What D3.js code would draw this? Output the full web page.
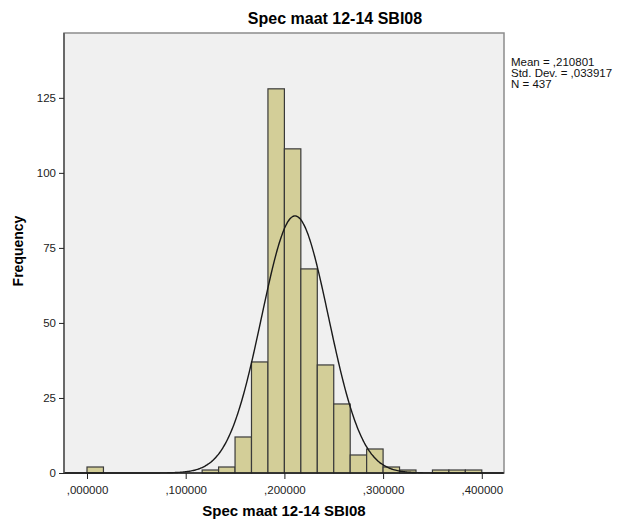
<!DOCTYPE html>
<html>
<head>
<meta charset="utf-8">
<script src="https://cdn.jsdelivr.net/npm/d3@7"></script>
<style>
  html, body { margin: 0; padding: 0; background: #fff; }
  svg { display: block; }
  text { font-family: "Liberation Sans", Arial, sans-serif; }
</style>
</head>
<body>
<script>
// Histogram bins: lower edges (bin width 1/60) and counts
const binWidth = 1 / 60;
const binStarts = [0, 7, 8, 9, 10, 11, 12, 13, 14, 15, 16, 17, 18, 19, 21, 22, 23].map(k => k * binWidth);
const binCounts = [2, 1, 2, 12, 37, 128, 108, 68, 36, 23, 6, 8, 2, 1, 1, 1, 1];

// Summary statistics of the variable
const mean = 0.210801;
const stdDev = 0.033917;
const n = 437;

const xTicks = [0, 0.1, 0.2, 0.3, 0.4];
const yTicks = [0, 25, 50, 75, 100, 125];
const statLines = ["Mean = ,210801", "Std. Dev. = ,033917", "N = 437"];

const W = 630, H = 524;
const plot = { left: 64, right: 504, top: 33, bottom: 473 };

const svg = d3.select("body").append("svg")
  .attr("width", W).attr("height", H);

svg.append("rect").attr("width", W).attr("height", H).attr("fill", "#fff");

const x = d3.scaleLinear()
  .domain([-0.0233, 0.4225])
  .range([plot.left, plot.right]);
const y = d3.scaleLinear()
  .domain([0, 146.6])
  .range([plot.bottom, plot.top]);

// Plot area background and frame
svg.append("rect")
  .attr("x", plot.left).attr("y", plot.top)
  .attr("width", plot.right - plot.left).attr("height", plot.bottom - plot.top)
  .attr("fill", "#f0f0f0")
  .attr("stroke", "#8c8c8c").attr("stroke-width", 1.5);

// Bars
svg.append("g").selectAll("rect")
  .data(binStarts.map((s, i) => ({ s, c: binCounts[i] })))
  .join("rect")
  .attr("x", d => x(d.s))
  .attr("width", d => x(d.s + binWidth) - x(d.s))
  .attr("y", d => y(d.c))
  .attr("height", d => y(0) - y(d.c))
  .attr("fill", "#d3ce98")
  .attr("stroke", "#3a3a3a")
  .attr("stroke-width", 1.2);

// Normal curve scaled to counts
const normal = v => n * binWidth / (stdDev * Math.sqrt(2 * Math.PI)) *
  Math.exp(-0.5 * Math.pow((v - mean) / stdDev, 2));
const curvePts = d3.range(x.domain()[0], x.domain()[1], 0.001).map(v => [v, normal(v)]);
svg.append("path")
  .datum(curvePts)
  .attr("fill", "none")
  .attr("stroke", "#1a1a1a")
  .attr("stroke-width", 1.4)
  .attr("d", d3.line().x(d => x(d[0])).y(d => y(d[1])).curve(d3.curveBasis));

// Axes
const fmt = v => "," + d3.format(".6f")(v).split(".")[1];
const xAxis = svg.append("g")
  .attr("transform", `translate(0,${plot.bottom})`)
  .call(d3.axisBottom(x).tickValues(xTicks).tickFormat(fmt).tickSize(6).tickSizeOuter(0));
const yAxis = svg.append("g")
  .attr("transform", `translate(${plot.left},0)`)
  .call(d3.axisLeft(y).tickValues(yTicks).tickSize(5).tickSizeOuter(0));

[xAxis, yAxis].forEach(g => {
  g.select(".domain").attr("stroke", "#222").attr("stroke-width", 1.5);
  g.selectAll(".tick line").attr("stroke", "#222");
  g.selectAll(".tick text")
    .attr("fill", "#222")
    .style("font-family", '"Liberation Sans", Arial, sans-serif')
    .style("font-size", "11.5px");
});
xAxis.select(".domain").attr("d", `M${plot.left},0H${plot.right}`);
xAxis.selectAll(".tick text").attr("dy", "1.0em");
yAxis.select(".domain").attr("d", `M0,${plot.top}V${plot.bottom}`).attr("stroke", "#555");

// Titles
svg.append("text")
  .attr("x", 335).attr("y", 24)
  .attr("text-anchor", "middle")
  .style("font-size", "16px").style("font-weight", "bold")
  .text("Spec maat 12-14 SBI08");

svg.append("text")
  .attr("x", 284).attr("y", 516)
  .attr("text-anchor", "middle")
  .style("font-size", "15px").style("font-weight", "bold")
  .text("Spec maat 12-14 SBI08");

svg.append("text")
  .attr("transform", `translate(23,${(plot.top + plot.bottom) / 2 - 2}) rotate(-90)`)
  .attr("text-anchor", "middle")
  .style("font-size", "14px").style("font-weight", "bold")
  .text("Frequency");

// Summary statistics
svg.append("g").selectAll("text")
  .data(statLines)
  .join("text")
  .attr("x", 511)
  .attr("y", (d, i) => 66 + i * 11)
  .style("font-size", "11.5px")
  .attr("fill", "#111")
  .text(d => d);
</script>
</body>
</html>
